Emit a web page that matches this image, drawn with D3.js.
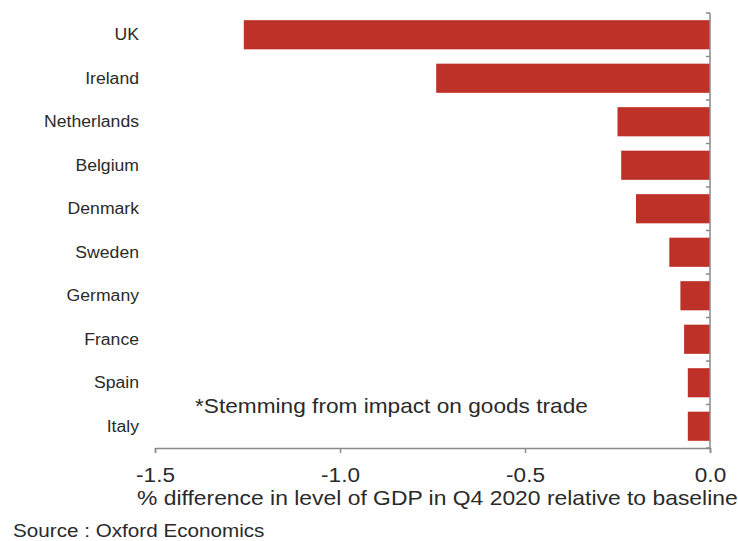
<!DOCTYPE html>
<html>
<head>
<meta charset="utf-8">
<script src="https://cdn.jsdelivr.net/npm/d3@7"></script>
<style>
  html, body { margin: 0; padding: 0; background: #fff; }
  svg { display: block; font-family: "Liberation Sans", Arial, sans-serif; }
</style>
</head>
<body>
<svg id="chart" width="738" height="541"></svg>
<script>
// Impact on GDP by country (% difference vs baseline, Q4 2020)
const categories = ["UK", "Ireland", "Netherlands", "Belgium", "Denmark",
                    "Sweden", "Germany", "France", "Spain", "Italy"];
const gdpDiff = [-1.26, -0.74, -0.25, -0.24, -0.20, -0.11, -0.08, -0.07, -0.06, -0.06];
const xTicks = [-1.5, -1.0, -0.5, 0.0];
const xTitle = "% difference in level of GDP in Q4 2020 relative to baseline";
const note = "*Stemming from impact on goods trade";
const source = "Source : Oxford Economics";

const plot = { left: 155, right: 710, top: 13, bottom: 448 };
const barColor = "#be3129";
const textColor = "#2a2a2a";
const axisColor = "#8a8a8a";
const SX = 1.1; // typeface is set slightly wide

const svg = d3.select("#chart");

const x = d3.scaleLinear().domain([-1.5, 0]).range([plot.left, plot.right]);
const y = d3.scaleBand().domain(categories).range([plot.top, plot.bottom])
  .paddingInner(0.33).paddingOuter(0.165);

// widen a text element horizontally, keeping its anchor
function widen(sel) {
  sel.each(function () {
    const len = this.getComputedTextLength();
    d3.select(this).attr("textLength", len * SX).attr("lengthAdjust", "spacingAndGlyphs");
  });
}

// bars
svg.append("g").selectAll("rect")
  .data(categories)
  .join("rect")
  .attr("x", (c, i) => x(gdpDiff[i]))
  .attr("y", c => y(c))
  .attr("width", (c, i) => x(0) - x(gdpDiff[i]))
  .attr("height", y.bandwidth())
  .attr("fill", barColor);

// x axis
const xAxis = svg.append("g")
  .attr("transform", `translate(0,${plot.bottom})`)
  .call(d3.axisBottom(x).tickValues(xTicks).tickSize(5).tickPadding(14)
    .tickFormat(d => d.toFixed(1)));
xAxis.select(".domain").attr("stroke", axisColor).attr("stroke-width", 1.5);
xAxis.selectAll(".tick line").attr("stroke", axisColor).attr("stroke-width", 1.5);
xAxis.selectAll(".tick text")
  .attr("fill", textColor).attr("font-size", 20.5)
  .attr("font-family", "'Liberation Sans', Arial, sans-serif")
  .call(widen);

// y axis: vertical line at zero with marks between categories
const bounds = categories.map(c => y(c) - y.step() * y.paddingInner() / 2);
bounds.push(plot.bottom);
const yAxis = svg.append("g");
yAxis.append("line")
  .attr("x1", x(0)).attr("x2", x(0))
  .attr("y1", plot.top).attr("y2", plot.bottom)
  .attr("stroke", axisColor).attr("stroke-width", 1.5);
yAxis.selectAll("line.mark")
  .data(bounds)
  .join("line")
  .attr("class", "mark")
  .attr("x1", x(0) - 4).attr("x2", x(0))
  .attr("y1", d => d).attr("y2", d => d)
  .attr("stroke", axisColor).attr("stroke-width", 1.5);

// category labels
svg.append("g").selectAll("text")
  .data(categories)
  .join("text")
  .attr("x", 139)
  .attr("y", c => y(c) + y.bandwidth() / 2)
  .attr("dy", "0.35em")
  .attr("text-anchor", "end")
  .attr("font-size", 16)
  .attr("fill", textColor)
  .text(c => c)
  .call(widen);

// axis title
svg.append("text")
  .attr("x", 137).attr("y", 505)
  .attr("font-size", 20.8)
  .attr("fill", textColor)
  .text(xTitle)
  .call(widen);

// note inside plot
svg.append("text")
  .attr("x", 195).attr("y", 413)
  .attr("font-size", 20.6)
  .attr("fill", textColor)
  .text(note)
  .call(widen);

// source line
svg.append("text")
  .attr("x", 13).attr("y", 537)
  .attr("font-size", 18.8)
  .attr("fill", textColor)
  .text(source)
  .call(widen);
</script>
</body>
</html>
